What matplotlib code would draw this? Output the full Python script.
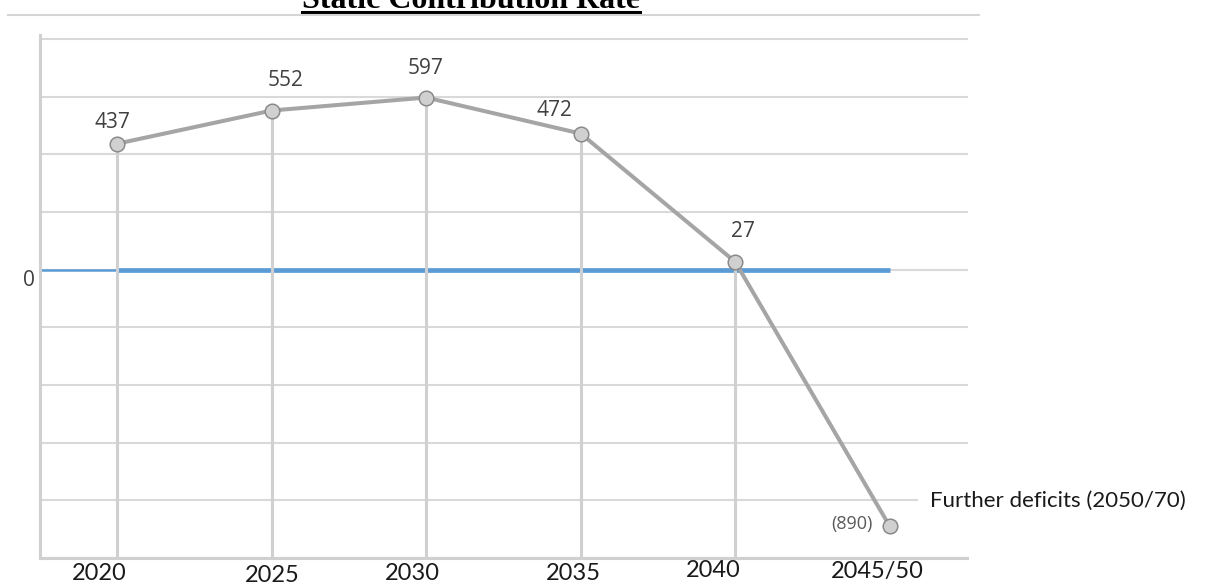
import matplotlib
matplotlib.use("Agg")
import matplotlib.pyplot as plt
import matplotlib.transforms as mtransforms
from matplotlib.lines import Line2D

# --- Data ---
periods = ["2020", "2025", "2030", "2035", "2040", "2045/50"]
contribution = [437, 552, 597, 472, 27, -890]
value_labels = ["437", "552", "597", "472", "27", "(890)"]
y_ticks = [-1000, -800, -600, -400, -200, 0, 200, 400, 600, 800]
title = "Static Contribution Rate"
side_note = "Further deficits (2050/70)"

# hand-tuned nudges (points) for the value labels and the period labels
label_offsets = [(-3.6, 11.5), (10, 18), (-0.7, 17.3), (-18.7, 13), (5.8, 18), (-12, 2)]
period_offsets = [(-13, 0.5), (0.7, -1), (-10, 0.5), (-5, 0.5), (-16, 2.5), (-8.6, 1.5)]

GRID = "#d9d9d9"
AXIS = "#d0d0d0"
SERIES = "#a5a5a5"
ZERO_BLUE = "#5b9bd5"
LABEL = "#404040"

W, H, DPI = 1210, 585, 100
fig = plt.figure(figsize=(W / DPI, H / DPI), dpi=DPI)
ax = fig.add_axes([40 / W, (H - 558) / H, 927 / W, 519 / H])

x = list(range(len(periods)))
ax.set_xlim(-0.5, len(periods) - 0.5)
ax.set_ylim(y_ticks[0], y_ticks[-1])

# horizontal grid
ax.set_yticks(y_ticks)
ax.yaxis.grid(True, color=GRID, linewidth=1.5)
ax.set_axisbelow(True)
for gl in ax.get_ygridlines():
    gl.set_clip_on(False)

# zero reference line: thin from the axis, thick across the periods
ax.hlines(0, -0.5, 0, color=ZERO_BLUE, linewidth=1.8, zorder=1.4)
ax.plot([x[0], x[-1]], [0, 0], color=ZERO_BLUE, linewidth=3.4,
        solid_capstyle="butt", zorder=1.4)

# drop lines from the positive points to the axis
for xi, v in zip(x, contribution):
    if v >= 0:
        ax.vlines(xi, y_ticks[0], v, color=AXIS, linewidth=2.2, zorder=1.6)

ax.plot(x, contribution, color=SERIES, linewidth=2.9, marker="o",
        markersize=10.5, markerfacecolor="#d0d0d0", markeredgecolor="#8a8a8a",
        markeredgewidth=1.1, zorder=3)

# value labels
for xi, v, txt, (dx, dy) in zip(x, contribution, value_labels, label_offsets):
    if v >= 0:
        ax.annotate(txt, (xi, v), xytext=(dx, dy), textcoords="offset points",
                    ha="center", va="baseline", fontsize=15,
                    family="Open Sans", color=LABEL, zorder=4)
    else:
        ax.annotate(txt, (xi, v), xytext=(dx, dy), textcoords="offset points",
                    ha="right", va="center", fontsize=13,
                    family="Open Sans", color="#5a5a5a", zorder=4)

# note box on white, covering the end of the grid line behind it
ax.annotate(side_note, (x[-1], contribution[-1]), xytext=(29, 18.4),
            textcoords="offset points", ha="left", va="center",
            fontsize=16, family="Lato", color="#1a1a1a",
            bbox=dict(facecolor="white", edgecolor="none", pad=9),
            annotation_clip=False, zorder=5)

# spines
for side in ("top", "right"):
    ax.spines[side].set_visible(False)
for side in ("left", "bottom"):
    ax.spines[side].set_color(AXIS)
    ax.spines[side].set_linewidth(2.2)
ax.spines["left"].set_bounds(y_ticks[0], y_ticks[-1] + 14)

# y labels: only the zero line is named
ax.set_yticklabels(["0" if t == 0 else "" for t in y_ticks],
                   fontsize=15, family="Open Sans", color=LABEL)
ax.tick_params(axis="y", length=0, pad=3.5)
for lab in ax.get_yticklabels():
    lab.set_transform(lab.get_transform()
                      + mtransforms.ScaledTranslation(0, -6 / 72, fig.dpi_scale_trans))

# period labels
ax.set_xticks(x)
ax.set_xticklabels(periods, fontsize=17, family="Lato", color="#1a1a1a")
ax.tick_params(axis="x", length=0, pad=4)
for lab, (dx, dy) in zip(ax.get_xticklabels(), period_offsets):
    lab.set_transform(lab.get_transform()
                      + mtransforms.ScaledTranslation(dx / 72, dy / 72, fig.dpi_scale_trans))

# title sits at the very top, partly cut off, with an underline and a page rule
t = fig.text(302 / W, 1 - 8.5 / H, title, fontsize=23, fontweight="bold",
             family="Liberation Serif", ha="left", va="baseline")
fig.canvas.draw()
bb = t.get_window_extent().transformed(fig.transFigure.inverted())
fig.add_artist(Line2D([bb.x0, bb.x1], [1 - 11.7 / H] * 2, color="black",
                      linewidth=2.2, transform=fig.transFigure))
fig.add_artist(Line2D([8 / W, 979 / W], [1 - 15 / H] * 2, color="#d5d5d5",
                      linewidth=1.5, transform=fig.transFigure))

fig.savefig("out.png", dpi=DPI)
